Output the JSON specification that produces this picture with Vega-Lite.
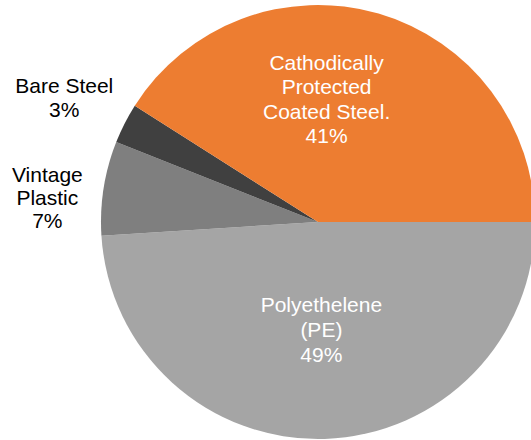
{
  "$schema": "https://vega.github.io/schema/vega-lite/v6.json",
  "width": 426,
  "height": 434,
  "autosize": {"type": "none"},
  "padding": {"left": 105, "top": 5, "right": 0, "bottom": 1},
  "background": "white",
  "config": {"view": {"stroke": null}, "font": "Liberation Sans"},
  "data": {
    "values": [
      {"category": "Polyethylene (PE)", "label": "Polyethelene\n(PE)\n49%", "percent": 49, "rank": 1},
      {"category": "Vintage Plastic", "label": "Vintage\nPlastic\n7%", "percent": 7, "rank": 2},
      {"category": "Bare Steel", "label": "Bare Steel\n3%", "percent": 3, "rank": 3},
      {"category": "Cathodically Protected Coated Steel", "label": "Cathodically\nProtected\nCoated Steel.\n41%", "percent": 41, "rank": 4}
    ]
  },
  "encoding": {
    "theta": {"field": "percent", "type": "quantitative", "stack": true, "scale": {"range": [1.5707963, 7.8539816]}},
    "order": {"field": "rank", "type": "quantitative"}
  },
  "layer": [
    {
      "mark": {"type": "arc", "outerRadius": 217},
      "encoding": {
        "color": {
          "field": "category",
          "type": "nominal",
          "scale": {
            "domain": ["Polyethylene (PE)", "Vintage Plastic", "Bare Steel", "Cathodically Protected Coated Steel"],
            "range": ["#A5A5A5", "#7F7F7F", "#404040", "#ED7D31"]
          },
          "legend": null
        }
      }
    },
    {
      "mark": {"type": "text", "radius": 124, "dx": -26, "dy": -39, "fontSize": 21, "lineBreak": "\n", "lineHeight": 24.3, "align": "center", "baseline": "middle", "color": "white"},
      "encoding": {
        "text": {"condition": {"test": "datum.category === 'Cathodically Protected Coated Steel'", "field": "label", "type": "nominal"}, "value": ""}
      }
    },
    {
      "mark": {"type": "text", "radius": 107.5, "dx": 0, "dy": -23, "fontSize": 21, "lineBreak": "\n", "lineHeight": 25, "align": "center", "baseline": "middle", "color": "white"},
      "encoding": {
        "text": {"condition": {"test": "datum.category === 'Polyethylene (PE)'", "field": "label", "type": "nominal"}, "value": ""}
      }
    },
    {
      "mark": {"type": "text", "radius": 282, "dx": -2.5, "dy": -7, "fontSize": 21, "lineBreak": "\n", "lineHeight": 24, "align": "center", "baseline": "middle", "color": "black"},
      "encoding": {
        "text": {"condition": {"test": "datum.category === 'Bare Steel'", "field": "label", "type": "nominal"}, "value": ""}
      }
    },
    {
      "mark": {"type": "text", "radius": 272, "dx": -2, "dy": -3, "fontSize": 21, "lineBreak": "\n", "lineHeight": 23, "align": "center", "baseline": "middle", "color": "black"},
      "encoding": {
        "text": {"condition": {"test": "datum.category === 'Vintage Plastic'", "field": "label", "type": "nominal"}, "value": ""}
      }
    }
  ]
}
